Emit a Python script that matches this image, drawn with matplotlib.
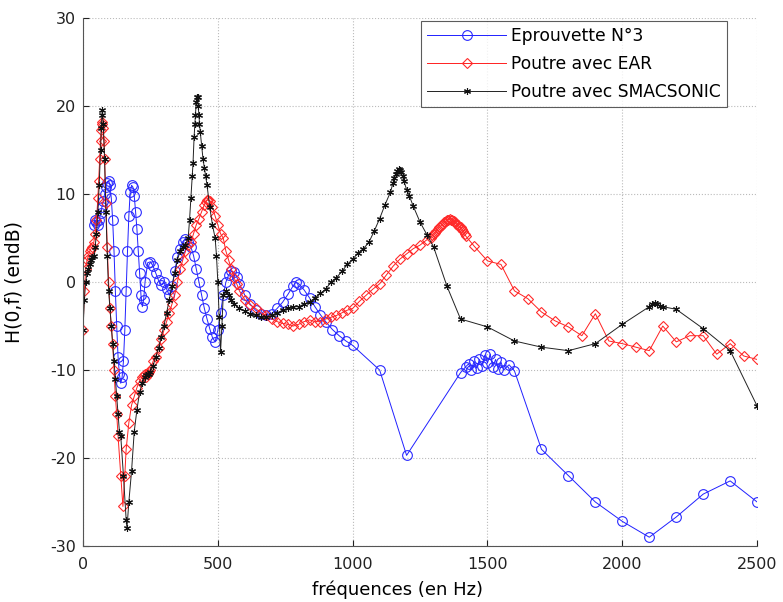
import matplotlib
matplotlib.use("Agg")
import matplotlib.pyplot as plt

plt.rcParams['font.family'] = ['DejaVu Sans']
plt.rcParams['axes.unicode_minus'] = False

# Eprouvette N°3
blue_f = [40, 45, 50, 55, 60, 65, 70, 75, 80, 85,
          90, 95, 100, 105, 110, 115, 120, 125, 130, 135,
          140, 145, 150, 155, 160, 165, 170, 175, 180, 185,
          190, 195, 200, 205, 210, 215, 220, 225, 230, 240,
          250, 260, 270, 280, 290, 300, 310, 320, 330, 340,
          350, 360, 370, 380, 390, 400, 410, 420, 430, 440,
          450, 460, 470, 480, 490, 500, 510, 520, 530, 540,
          550, 560, 570, 580, 600, 620, 640, 660, 680, 700,
          720, 740, 760, 780, 790, 800, 820, 840, 860, 880,
          900, 925, 950, 975, 1000, 1100, 1200, 1400, 1420, 1430,
          1440, 1450, 1460, 1470, 1480, 1490, 1500, 1510, 1520, 1530,
          1540, 1550, 1560, 1580, 1600, 1700, 1800, 1900, 2000, 2100,
          2200, 2300, 2400, 2500]
blue_db = [6.5, 7.0, 6.8, 6.5, 7.0, 7.8, 8.5, 9.2, 10.0, 10.8,
           11.3, 11.5, 11.0, 9.5, 7.0, 3.5, -1.0, -5.0, -8.5, -10.5,
           -11.5, -10.8, -9.0, -5.5, -1.0, 3.5, 7.5, 10.2, 11.0, 10.8,
           9.8, 8.0, 6.0, 3.5, 1.0, -1.5, -2.8, -2.0, 0.0, 2.2,
           2.3, 1.8, 1.0, 0.2, -0.3, 0.0, -0.8, -1.5, -0.5, 1.2,
           2.8, 3.8, 4.6, 4.9, 4.6, 4.0, 3.0, 1.5, 0.0, -1.5,
           -3.0, -4.2, -5.3, -6.3, -6.8, -5.5, -3.5, -1.5, 0.0, 0.8,
           1.2, 1.1, 0.6, -0.2, -1.5, -2.5, -3.2, -3.6, -3.8, -3.6,
           -3.0, -2.3, -1.4, -0.4, 0.0, -0.2, -0.9, -1.8, -2.8, -3.7,
           -4.5, -5.4, -6.1, -6.7, -7.2, -10.0, -19.7, -10.3, -9.6, -9.3,
           -10.0, -9.0, -9.8, -8.8, -9.5, -8.3, -9.2, -8.2, -9.6, -8.8,
           -9.9, -9.1, -10.0, -9.4, -10.1, -19.0, -22.0, -25.0, -27.2, -29.0,
           -26.7, -24.1, -22.6, -25.0]

# Poutre avec EAR
red_f = [0, 5, 10, 15, 20, 25, 30, 35, 40, 45,
         50, 55, 58, 62, 65, 68, 70, 72, 75, 78,
         80, 85, 90, 95, 100, 105, 110, 115, 120, 125,
         130, 140, 148, 155, 160, 170, 180, 190, 200, 210,
         220, 225, 230, 235, 240, 245, 250, 260, 270, 280,
         290, 300, 310, 320, 330, 340, 350, 360, 370, 380,
         390, 400, 410, 420, 430, 440, 450, 455, 460, 465,
         470, 480, 490, 500, 510, 520, 530, 540, 550, 560,
         570, 580, 600, 620, 640, 660, 680, 700, 720, 740,
         760, 780, 800, 820, 840, 860, 880, 900, 920, 940,
         960, 980, 1000, 1025, 1050, 1075, 1100, 1125, 1150, 1175,
         1200, 1225, 1250, 1275, 1290, 1295, 1300, 1305, 1310, 1315,
         1320, 1325, 1330, 1335, 1340, 1345, 1350, 1355, 1360, 1365,
         1370, 1375, 1380, 1385, 1390, 1395, 1400, 1405, 1410, 1415,
         1420, 1450, 1500, 1550, 1600, 1650, 1700, 1750, 1800, 1850,
         1900, 1950, 2000, 2050, 2100, 2150, 2200, 2250, 2300, 2350,
         2400, 2450, 2500]
red_db = [-5.5, -1.0, 1.5, 2.5, 3.0, 3.5, 3.8, 4.0, 4.5, 5.5,
          7.0, 9.5, 11.5, 14.0, 16.0, 17.3, 18.2, 18.0, 17.5, 16.0,
          14.0, 9.0, 4.0, 0.0, -3.0, -5.0, -7.0, -10.0, -13.0, -15.0,
          -17.5, -22.0, -25.5, -22.0, -19.0, -16.0, -14.0, -13.0, -12.0, -11.2,
          -10.8, -10.6, -10.5, -10.8, -10.5, -10.2, -10.0, -9.0, -8.5, -7.5,
          -6.5, -5.5, -4.5, -3.5, -2.5, -1.5, 0.0, 1.5, 2.5, 3.5,
          4.2, 4.5, 5.5, 6.5, 7.2, 8.0, 8.8, 9.1, 9.3, 9.3,
          9.2, 8.5, 7.5, 6.5, 5.5, 5.0, 3.5, 2.5, 1.5, 0.5,
          -0.2, -1.0, -2.0, -2.6, -3.0, -3.5, -3.8, -4.2, -4.5, -4.7,
          -4.8, -5.0, -4.8, -4.5, -4.3, -4.5, -4.5, -4.2, -4.0, -3.8,
          -3.5, -3.2, -3.0, -2.2, -1.5, -0.8, -0.2, 0.8, 1.8, 2.6,
          3.2, 3.8, 4.2, 4.8, 5.0, 5.3, 5.5, 5.6, 5.8, 6.0,
          6.2, 6.3, 6.5, 6.6, 6.8, 6.9, 7.0, 7.1, 7.2, 7.1,
          7.0, 6.9, 6.8, 6.6, 6.5, 6.3, 6.2, 6.0, 5.8, 5.5,
          5.2, 4.1, 2.4, 2.0, -1.0, -1.9, -3.4, -4.4, -5.1, -6.1,
          -3.6, -6.7, -7.0, -7.4, -7.8, -5.0, -6.8, -6.1, -6.1, -8.2,
          -7.0, -8.4, -8.8]

# Poutre avec SMACSONIC
black_f = [0, 5, 10, 15, 20, 25, 30, 35, 40, 45,
           50, 55, 60, 65, 68, 70, 72, 75, 80, 85,
           90, 95, 100, 105, 110, 115, 120, 125, 130, 135,
           140, 150, 160, 163, 170, 180, 190, 200, 210, 220,
           230, 235, 240, 245, 250, 260, 270, 280, 290, 300,
           310, 320, 330, 340, 350, 360, 370, 380, 390, 395,
           400, 405, 408, 412, 415, 417, 420, 422, 425, 427,
           430, 432, 435, 440, 445, 450, 455, 460, 470, 480,
           490, 495, 500, 505, 510, 515, 520, 530, 540, 550,
           560, 580, 600, 620, 640, 660, 680, 700, 720, 740,
           760, 780, 800, 820, 840, 860, 880, 900, 920, 940,
           960, 980, 1000, 1020, 1040, 1060, 1080, 1100, 1120, 1140,
           1150, 1155, 1160, 1165, 1170, 1175, 1180, 1185, 1190, 1200,
           1210, 1225, 1250, 1275, 1300, 1350, 1400, 1500, 1600, 1700,
           1800, 1900, 2000, 2100, 2110, 2120, 2130, 2140, 2150, 2200,
           2300, 2400, 2500]
black_db = [-5.5, -2.0, 0.0, 1.0, 1.5, 2.0, 2.5, 2.8, 3.0, 4.0,
            5.5, 8.0, 11.0, 15.0, 17.5, 19.0, 19.5, 18.0, 14.0, 8.0,
            3.0, -1.0, -3.0, -5.0, -7.0, -9.0, -11.0, -13.0, -15.0, -17.0,
            -17.5, -22.0, -27.0, -28.0, -25.0, -21.5, -17.0, -14.5, -12.5, -11.5,
            -10.8, -10.6, -10.5, -10.4, -10.2, -9.5, -8.5, -7.5, -6.2, -5.0,
            -3.5, -2.0, -0.5, 1.0, 2.5, 3.5, 4.0, 4.2, 5.0, 7.0,
            9.5, 12.0, 13.5, 16.5, 18.0, 19.0, 20.5, 21.0, 21.0, 20.0,
            19.0, 18.0, 17.0, 15.5, 14.0, 13.0, 12.0, 11.0, 8.5, 6.5,
            5.0, 3.0, 0.0, -4.0, -8.0, -5.0, -1.5, -1.0, -1.5, -2.0,
            -2.5, -3.0, -3.3, -3.6, -3.8, -4.0, -4.0, -3.8, -3.5, -3.2,
            -3.0, -2.8, -2.8, -2.5, -2.3, -1.8, -1.3, -0.8, 0.0, 0.5,
            1.2, 2.0, 2.6, 3.3, 3.8, 4.5, 5.8, 7.2, 8.8, 10.2,
            11.3, 11.8, 12.3, 12.6, 12.8, 12.7, 12.5, 12.0, 11.5, 10.5,
            9.8, 8.6, 6.8, 5.4, 4.0, -0.5, -4.2, -5.1, -6.7, -7.4,
            -7.8, -7.0, -4.8, -2.8, -2.5, -2.4, -2.5, -2.7, -2.8, -3.1,
            -5.3, -7.8, -14.1]

series_labels = ["Eprouvette N°3", "Poutre avec EAR", "Poutre avec SMACSONIC"]
x_ticks = [0, 500, 1000, 1500, 2000, 2500]
y_ticks = [-30, -20, -10, 0, 10, 20, 30]

fig = plt.figure(figsize=(7.83, 6.02), dpi=100)
ax = fig.add_axes([0.106, 0.093, 0.861, 0.877])

ax.plot(blue_f, blue_db, color='#2020ff', lw=0.7, marker='o', ms=7,
        mfc='none', mec='#2a2aff', mew=0.8, label=series_labels[0])
ax.plot(red_f, red_db, color='#ff2020', lw=0.7, marker='D', ms=5.5,
        mfc='none', mec='#ff2a2a', mew=0.8, label=series_labels[1])
ax.plot(black_f, black_db, color='#222222', lw=0.7, marker=(6, 2, 0), ms=5,
        mec='#111111', mew=0.8, label=series_labels[2])

ax.set_xlim(0, 2500)
ax.set_ylim(-30, 30)
ax.set_xticks(x_ticks)
ax.set_yticks(y_ticks)
ax.tick_params(axis='x', direction='in', length=4, labelsize=11.5, colors='#222222', pad=8)
ax.tick_params(axis='y', direction='in', length=4, labelsize=11.5, colors='#222222', pad=5)
ax.grid(True, linestyle=':', color='#bbbbbb', linewidth=0.8)
for side in ('top', 'right'):
    ax.spines[side].set_visible(False)
for side in ('left', 'bottom'):
    ax.spines[side].set_color('#555555')
    ax.spines[side].set_linewidth(0.8)

ax.set_xlabel("fréquences (en Hz)", fontsize=13)
ax.xaxis.set_label_coords(0.466, -0.066)
ax.set_ylabel("H(0,f) (endB)", fontsize=13.5)
ax.yaxis.set_label_coords(-0.088, 0.5)

leg = ax.legend(loc='upper right', bbox_to_anchor=(0.955, 0.995), fontsize=12.3,
                frameon=True, fancybox=False, edgecolor='#333333',
                borderpad=0.35, handlelength=4.6, handletextpad=0.3,
                labelspacing=0.6, borderaxespad=0.0)
leg.get_frame().set_linewidth(0.8)

fig.savefig("out.png", dpi=100)
